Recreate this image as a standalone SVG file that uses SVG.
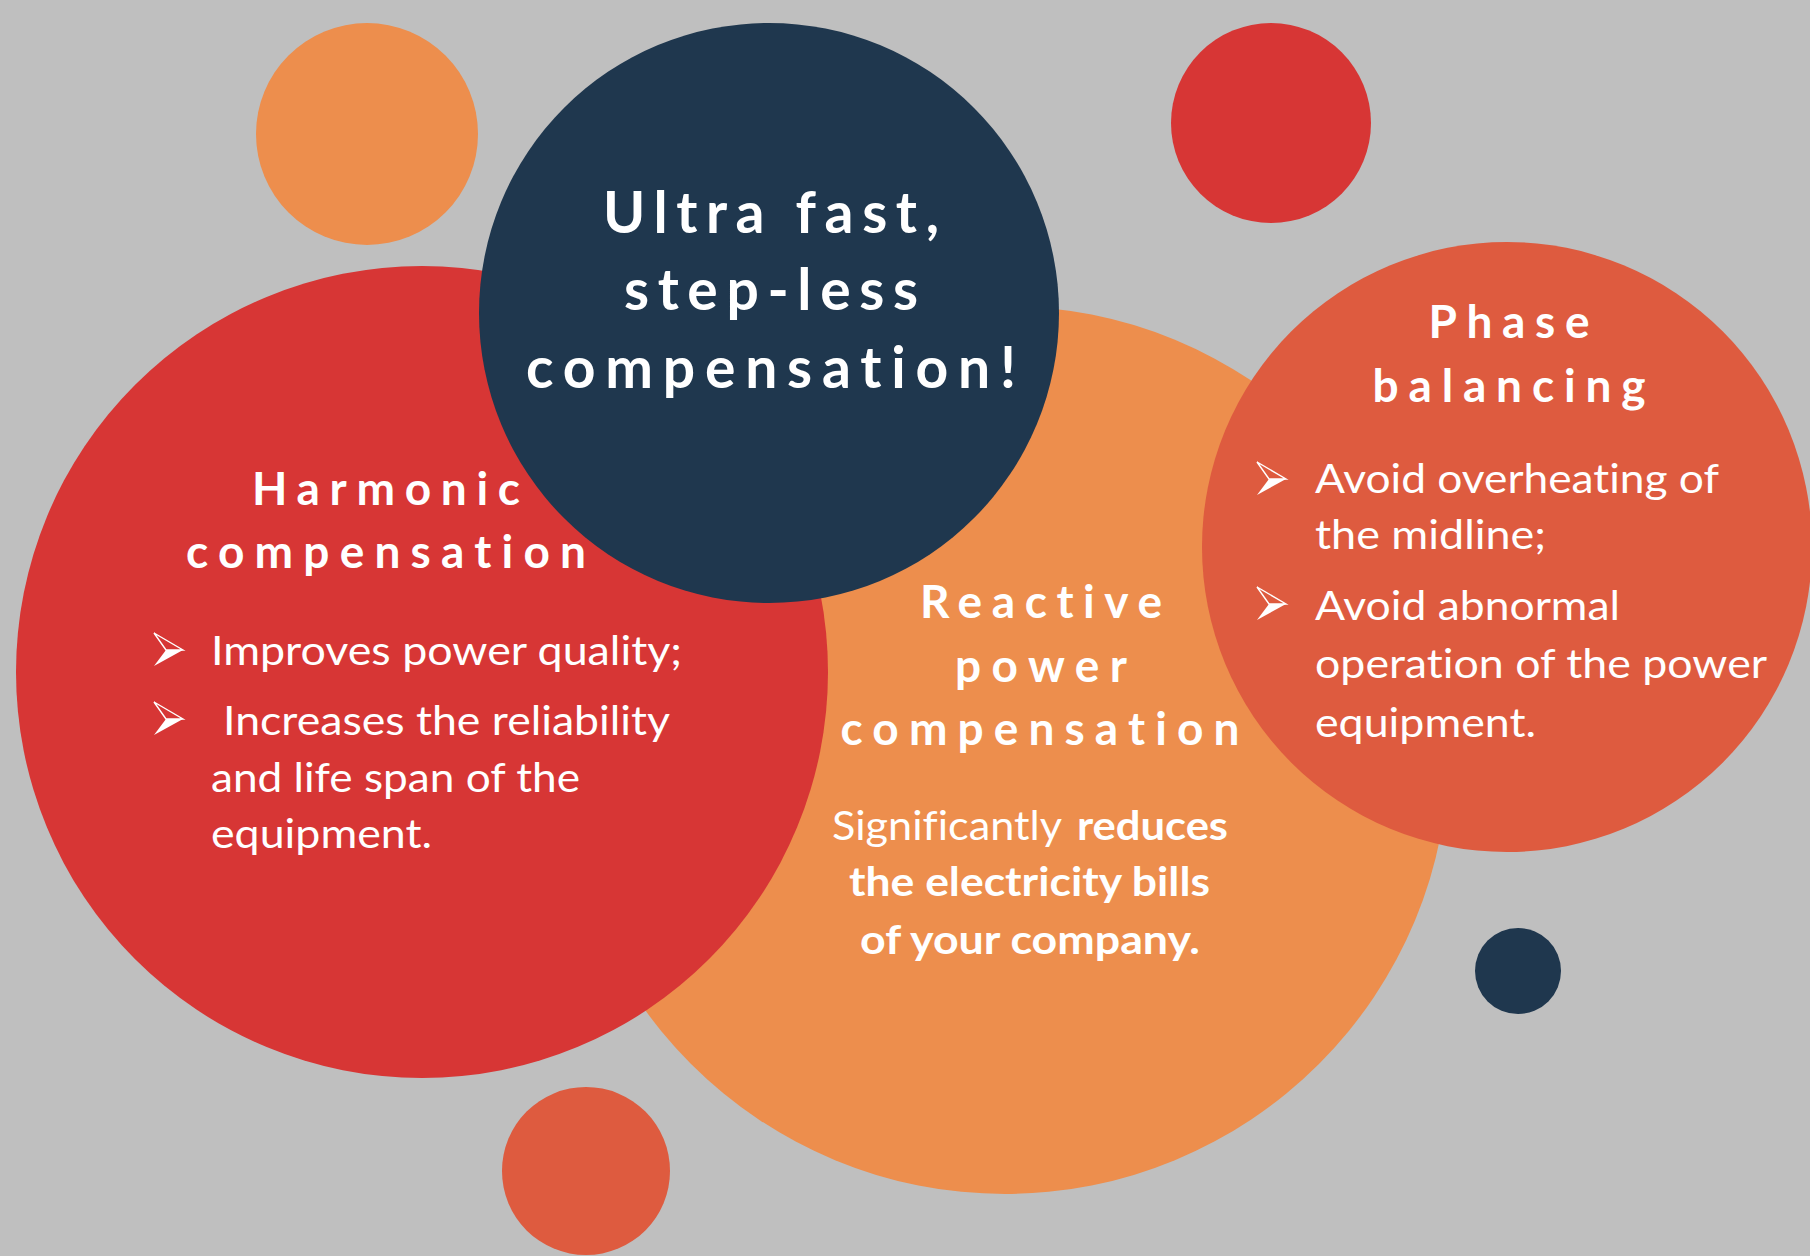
<svg xmlns="http://www.w3.org/2000/svg" xmlns:xlink="http://www.w3.org/1999/xlink" width="1810" height="1256" viewBox="0 0 1810 1256">
<style>
.bg{fill:#BFBFBF}
.orange{fill:#ED8E4D}
.red{fill:#D73635}
.navy{fill:#1F374E}
.coral{fill:#DE5B3F}
text{font-variant-ligatures:none;font-feature-settings:"liga" 0,"clig" 0}
.head{font-family:Lato,"Open Sans","Liberation Sans",sans-serif;font-weight:700;fill:#FFFFFF;text-anchor:middle}
.title{font-size:57px}
.sub{font-size:46px}
.body{font-family:Lato,"Open Sans","Liberation Sans",sans-serif;font-weight:400;font-size:41px;fill:#FFFFFF}
.bold{font-weight:700}
</style>
<defs>
<g id="bullet">
<path d="M0,0 L29,17 L12,17 Z" fill="none" stroke="#FFFFFF" stroke-width="1.4" stroke-linejoin="miter"/>
<path d="M12,17 L29,17 L0,33 Z" fill="#FFFFFF"/>
</g>
</defs>
<rect class="bg" x="0" y="0" width="1810" height="1256"/>
<g id="deco">
<circle class="orange" cx="367" cy="134" r="111"/>
<circle class="red" cx="1271" cy="123" r="100"/>
<circle class="navy" cx="1518" cy="971" r="43"/>
<circle class="coral" cx="586" cy="1171" r="84"/>
</g>
<g id="connectors"/>
<g id="reactive">
<circle class="orange" cx="1005" cy="750" r="444"/>
<text class="head sub" x="1041" y="618" textLength="242" lengthAdjust="spacing">Reactive</text>
<text class="head sub" x="1041" y="682" textLength="172" lengthAdjust="spacing">power</text>
<text class="head sub" x="1040" y="745" textLength="399" lengthAdjust="spacing">compensation</text>
<text class="body" x="832" y="840" textLength="230" lengthAdjust="spacingAndGlyphs">Significantly</text>
<text class="body bold" x="1077" y="840" textLength="151" lengthAdjust="spacingAndGlyphs">reduces</text>
<text class="body bold" x="849" y="896" textLength="361" lengthAdjust="spacingAndGlyphs">the electricity bills</text>
<text class="body bold" x="860" y="954" textLength="340" lengthAdjust="spacingAndGlyphs">of your company.</text>
</g>
<g id="harmonic">
<circle class="red" cx="422" cy="672" r="406"/>
<text class="head sub" x="386" y="505" textLength="268" lengthAdjust="spacing">Harmonic</text>
<text class="head sub" x="386" y="568" textLength="400" lengthAdjust="spacing">compensation</text>
<use href="#bullet" xlink:href="#bullet" x="154" y="633"/>
<text class="body" x="211" y="665" textLength="471" lengthAdjust="spacingAndGlyphs">Improves power quality;</text>
<use href="#bullet" xlink:href="#bullet" x="154" y="702"/>
<text class="body" x="223" y="735" textLength="447" lengthAdjust="spacingAndGlyphs">Increases the reliability</text>
<text class="body" x="211" y="792" textLength="369" lengthAdjust="spacingAndGlyphs">and life span of the</text>
<text class="body" x="211" y="848" textLength="221" lengthAdjust="spacingAndGlyphs">equipment.</text>
</g>
<g id="center">
<circle class="navy" cx="769" cy="313" r="290"/>
<text class="head title" x="771" y="233" textLength="336" lengthAdjust="spacing">Ultra fast,</text>
<text class="head title" x="771" y="310" textLength="294" lengthAdjust="spacing">step-less</text>
<text class="head title" x="771" y="388" textLength="490" lengthAdjust="spacing">compensation!</text>
</g>
<g id="phase">
<circle class="coral" cx="1507" cy="547" r="305"/>
<text class="head sub" x="1509" y="338" textLength="161" lengthAdjust="spacing">Phase</text>
<text class="head sub" x="1509" y="402" textLength="273" lengthAdjust="spacing">balancing</text>
<use href="#bullet" xlink:href="#bullet" x="1257" y="462"/>
<text class="body" x="1315" y="493" textLength="404" lengthAdjust="spacingAndGlyphs">Avoid overheating of</text>
<text class="body" x="1315" y="549" textLength="231" lengthAdjust="spacingAndGlyphs">the midline;</text>
<use href="#bullet" xlink:href="#bullet" x="1257" y="587"/>
<text class="body" x="1315" y="620" textLength="305" lengthAdjust="spacingAndGlyphs">Avoid abnormal</text>
<text class="body" x="1315" y="678" textLength="452" lengthAdjust="spacingAndGlyphs">operation of the power</text>
<text class="body" x="1315" y="737" textLength="221" lengthAdjust="spacingAndGlyphs">equipment.</text>
</g>
</svg>
